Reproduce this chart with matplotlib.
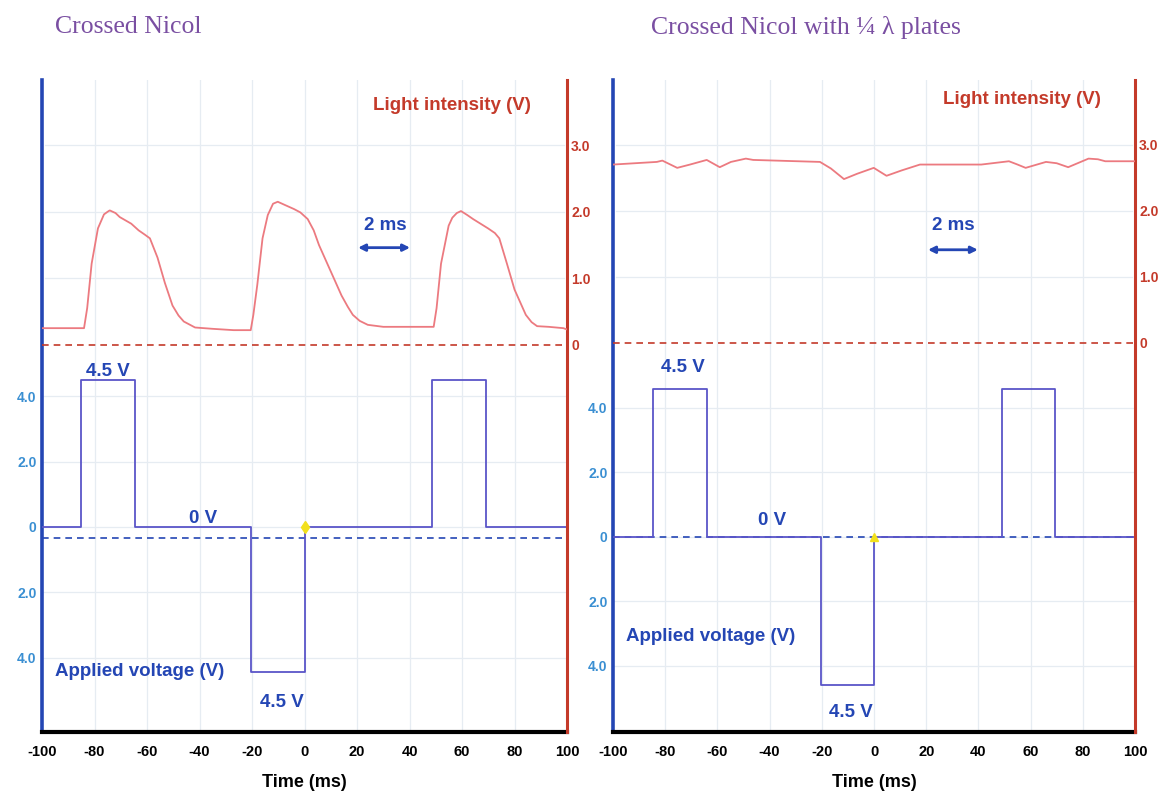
import matplotlib.pyplot as plt

# Oscilloscope traces: applied voltage (square wave) and light intensity,
# crossed Nicol without / with quarter-wave plates

# applied voltage, step breakpoints (ms) and levels (V)
left_volt_t = [-100, -85, -64.5, -20.5, 0, 48.5, 69, 100]
left_volt = [0, 4.5, 0, -4.45, 0, 4.5, 0, 0]
right_volt_t = [-100, -84.5, -64, -20.3, 0, 49, 69.5, 100]
right_volt = [0, 4.6, 0, -4.6, 0, 4.6, 0, 0]

# dashed voltage reference level (V)
left_volt_ref = -0.35
right_volt_ref = 0.0

# light intensity (V)
left_light_t = [-100, -90, -84, -82.8, -81.1, -78.7, -76.4, -75, -74.2, -72,
                -70.4, -66, -63.2, -61, -58.9, -56, -53.2, -50.3, -48, -46,
                -41.7, -35, -27, -20.5, -19.5, -18, -16, -14, -12, -10.2,
                -7.4, -4, -1.6, 1.2, 3.5, 5.5, 9.8, 14.1, 16.5, 18.4, 21,
                24.1, 30, 40, 49.2, 50.3, 52, 54.9, 56.3, 58, 59.6, 62, 64.2,
                69.9, 72.5, 74.2, 77.1, 80, 84.3, 86.5, 88.6, 93, 98.6, 100]
left_light = [0.25, 0.25, 0.25, 0.55, 1.22, 1.75, 1.96, 2.0, 2.02, 1.98,
              1.92, 1.82, 1.72, 1.66, 1.6, 1.31, 0.93, 0.59, 0.44, 0.35,
              0.26, 0.24, 0.22, 0.22, 0.45, 0.9, 1.6, 1.95, 2.12, 2.15,
              2.1, 2.04, 1.99, 1.89, 1.72, 1.5, 1.12, 0.74, 0.57, 0.45, 0.36,
              0.3, 0.27, 0.27, 0.27, 0.55, 1.22, 1.79, 1.91, 1.98, 2.01, 1.95,
              1.89, 1.75, 1.68, 1.6, 1.22, 0.83, 0.45, 0.34, 0.28, 0.27, 0.25,
              0.23]

right_light_t = [-100, -83.2, -81.1, -78, -75.4, -70.5, -64.1, -59.1, -54.8,
                 -49.1, -46.3, -20.7, -16.5, -11.5, -6.5, -0.1, 4.8, 10.5,
                 17.6, 41.1, 51.7, 55, 58.1, 65.9, 70, 74.4, 82.2, 85.8,
                 88.6, 100]
right_light = [2.70, 2.74, 2.76, 2.70, 2.65, 2.70, 2.77, 2.66, 2.74,
               2.79, 2.77, 2.74, 2.64, 2.48, 2.56, 2.65, 2.53, 2.61,
               2.70, 2.70, 2.75, 2.70, 2.65, 2.74, 2.72, 2.66, 2.79, 2.78,
               2.75, 2.75]

time_ticks = [-100, -80, -60, -40, -20, 0, 20, 40, 60, 80, 100]
volt_ticks = [4, 2, 0, -2, -4]
volt_labels = ['4.0', '2.0', '0', '2.0', '4.0']
light_ticks = [3, 2, 1, 0]
light_labels = ['3.0', '2.0', '1.0', '0']

titles = ['Crossed Nicol', 'Crossed Nicol with \u00bc \u03bb plates']

BLUE = '#2446b4'
TRACE_BLUE = '#5a55c8'
TICK_BLUE = '#3a8fd2'
RED = '#c43a2a'
TRACE_RED = '#ec7a80'
PURPLE = '#7a4fa2'
GRID = '#e6ecf2'

plt.rcParams['font.family'] = ['Liberation Sans', 'DejaVu Sans']

fig = plt.figure(figsize=(11.61, 7.96), dpi=100)

panels = [
    # axes rect, voltage ylim, light ylim, data
    ([0.0362, 0.0804, 0.4522, 0.8191], (-6.27, 13.67), (-5.82, 3.98),
     left_volt_t, left_volt, left_volt_ref, left_light_t, left_light),
    ([0.528, 0.0804, 0.4496, 0.8191], (-6.05, 14.17), (-5.89, 3.98),
     right_volt_t, right_volt, right_volt_ref, right_light_t, right_light),
]

# text positions per panel (time, value)
label_pos = [
    {'light': (56.2, 3.59), 'ms': (30.7, 1.79), 'arrow': (20.4, 40.2, 1.46),
     'top45': (-74.9, 4.77), 'zero': (-38.7, 0.25), 'applied': (-95, -4.43),
     'bot45': (-8.6, -5.38)},
    {'light': (56.7, 3.68), 'ms': (30.3, 1.77), 'arrow': (20.7, 39.8, 1.41),
     'top45': (-73.2, 5.24), 'zero': (-39.1, 0.5), 'applied': (-95, -3.1),
     'bot45': (-8.8, -5.43)},
]

FS = 13.5

for i, (rect, vlim, llim, vt, vv, vref, lt, lv) in enumerate(panels):
    ax = fig.add_axes(rect)
    ax2 = ax.twinx()

    ax.set_xlim(-100, 100)
    ax.set_ylim(*vlim)
    ax2.set_ylim(*llim)

    # faint grid
    for t in time_ticks[1:-1]:
        ax.axvline(t, color=GRID, lw=0.9, zorder=0)
    for v in volt_ticks:
        ax.axhline(v, color=GRID, lw=0.9, zorder=0)
    for v in light_ticks[:-1]:
        ax2.axhline(v, xmin=0.006, xmax=0.994, color=GRID, lw=0.9, zorder=0)

    # traces
    ax.plot(vt, vv, drawstyle='steps-post', color=TRACE_BLUE, lw=1.3, zorder=3)
    ax.axhline(vref, color=BLUE, ls=(0, (4, 3)), lw=1.2, zorder=2)
    ax2.plot(lt, lv, color=TRACE_RED, lw=1.3, zorder=3)
    ax2.axhline(0, color=RED, ls=(0, (4, 3)), lw=1.2, zorder=2)

    # trigger marker
    ax.plot([0], [0], marker='d' if i == 0 else '^', color='#f2e01c',
            ms=6, zorder=4)

    # spines
    ax.spines['top'].set_visible(False)
    ax2.spines['top'].set_visible(False)
    ax.spines['right'].set_visible(False)
    ax2.spines['left'].set_visible(False)
    ax2.spines['bottom'].set_visible(False)
    ax.spines['left'].set_color(BLUE)
    ax.spines['left'].set_linewidth(2.6)
    ax.spines['bottom'].set_color('black')
    ax.spines['bottom'].set_linewidth(3)
    ax2.spines['right'].set_color(RED)
    ax2.spines['right'].set_linewidth(2.2)

    ax.set_xticks(time_ticks)
    ax.set_xticklabels([str(t) for t in time_ticks], fontsize=10.5,
                       fontweight='bold')
    ax.tick_params(axis='x', length=0, pad=9)
    ax.set_yticks(volt_ticks)
    ax.set_yticklabels(volt_labels, fontsize=10, fontweight='bold',
                       color=TICK_BLUE)
    ax.tick_params(axis='y', length=0, pad=4)
    ax2.set_yticks(light_ticks)
    ax2.set_yticklabels(light_labels, fontsize=10, fontweight='bold',
                        color=RED)
    ax2.tick_params(axis='y', length=0, pad=3, left=False)

    ax.set_xlabel('Time (ms)', fontsize=13, fontweight='bold', labelpad=11)

    p = label_pos[i]
    ax2.text(*p['light'], 'Light intensity (V)', color=RED, fontsize=FS,
             fontweight='bold', ha='center', va='center')
    ax2.text(*p['ms'], '2 ms', color=BLUE, fontsize=FS, fontweight='bold',
             ha='center', va='center')
    a0, a1, ay = p['arrow']
    ax2.annotate('', xy=(a0, ay), xytext=(a1, ay),
                 arrowprops=dict(arrowstyle='<|-|>', color=BLUE, lw=2,
                                 mutation_scale=10, shrinkA=0, shrinkB=0))
    ax.text(*p['top45'], '4.5 V', color=BLUE, fontsize=FS,
            fontweight='bold', ha='center', va='center')
    ax.text(*p['zero'], '0 V', color=BLUE, fontsize=FS, fontweight='bold',
            ha='center', va='center')
    ax.text(*p['applied'], 'Applied voltage (V)', color=BLUE, fontsize=FS,
            fontweight='bold', ha='left', va='center')
    ax.text(*p['bot45'], '4.5 V', color=BLUE, fontsize=FS,
            fontweight='bold', ha='center', va='center')

# panel titles
fig.text(0.047, 0.966, titles[0], color=PURPLE, fontsize=18.5,
         family=['Liberation Serif', 'DejaVu Serif'], va='center')
fig.text(0.561, 0.966, titles[1], color=PURPLE, fontsize=18.5,
         family=['Liberation Serif', 'DejaVu Serif'], va='center')

plt.savefig('out.png', dpi=100)
